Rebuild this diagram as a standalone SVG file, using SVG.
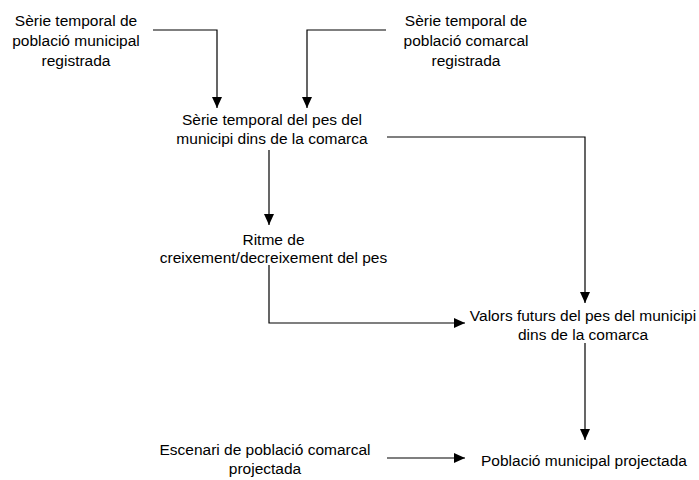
<svg xmlns="http://www.w3.org/2000/svg" width="699" height="480" viewBox="0 0 699 480">
<defs>
<marker id="arr" markerUnits="userSpaceOnUse" markerWidth="11" markerHeight="10" refX="11" refY="5" orient="auto">
<path d="M0,0 L11,5 L0,10 Z" fill="#000"/>
</marker>
<style>
text{font-family:"Liberation Sans",Arial,sans-serif;font-size:15.5px;fill:#000;text-anchor:middle}
.c{fill:none;stroke:#000;stroke-width:1.2;marker-end:url(#arr)}
</style>
</defs>
<rect width="699" height="480" fill="#fff"/>
<g id="n1"><text x="76" y="26">Sèrie temporal de</text><text x="76" y="46">població municipal</text><text x="76" y="65.5">registrada</text></g>
<g id="n2"><text x="466" y="26">Sèrie temporal de</text><text x="466" y="46">població comarcal</text><text x="466" y="65.5">registrada</text></g>
<g id="n3"><text x="272" y="125">Sèrie temporal del pes del</text><text x="272" y="143.5">municipi dins de la comarca</text></g>
<g id="n4"><text x="273.5" y="245">Ritme de</text><text x="273.5" y="263">creixement/decreixement del pes</text></g>
<g id="n5"><text x="583" y="321">Valors futurs del pes del municipi</text><text x="583" y="340">dins de la comarca</text></g>
<g id="n6"><text x="265" y="455">Escenari de població comarcal</text><text x="265" y="474">projectada</text></g>
<g id="n7"><text x="584" y="466">Població municipal projectada</text></g>
<g id="connectors">
<path class="c" d="M153,30 H217 V108"/>
<path class="c" d="M386,30 H307 V108"/>
<path class="c" d="M387,137 H585 V303"/>
<path class="c" d="M269,150 V225"/>
<path class="c" d="M269,265 V323 H465"/>
<path class="c" d="M585,343 V440"/>
<path class="c" d="M387,458 H465"/>
</g>
</svg>
